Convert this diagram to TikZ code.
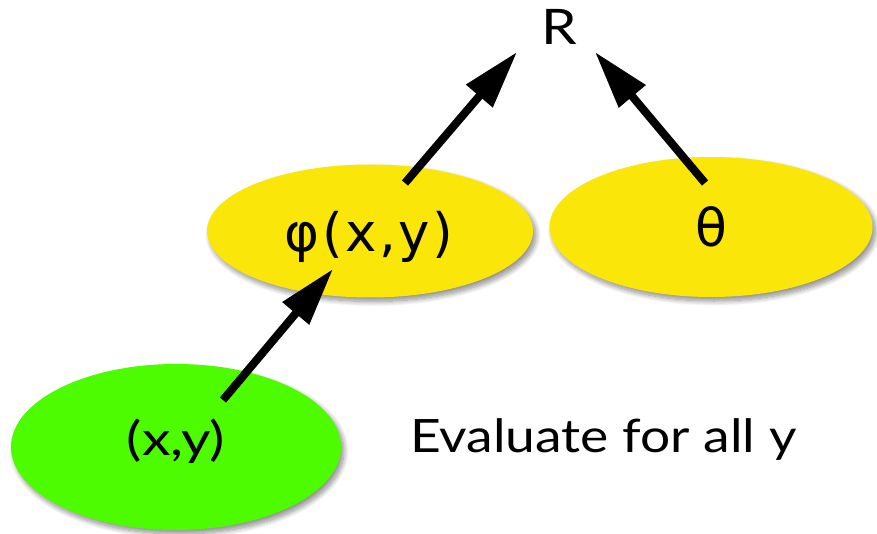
\documentclass[tikz,border=0pt]{standalone}
\usepackage{fontspec}
\setmainfont{Lato}
\newfontfamily\gill[FakeStretch=1.16]{Lato}
\newfontfamily\gillwide[FakeStretch=1.22]{Lato}
\newfontfamily\greekfont{DejaVu Sans}
\newfontfamily\greekspaced[LetterSpace=5]{DejaVu Sans}
\usetikzlibrary{arrows.meta,shadows,shadows.blur,shapes.geometric}
\definecolor{leafgreen}{RGB}{78,252,0}
\definecolor{sunyellow}{RGB}{251,230,10}
\tikzset{
  blob/.style={ellipse, inner sep=0pt, blur shadow={shadow xshift=3pt, shadow yshift=-4pt, shadow blur steps=12, shadow blur radius=5pt, shadow opacity=45}},
  link/.style={line width=8pt, -{Triangle[length=58pt,width=33pt]}},
  linkshadow/.style={line width=8pt, draw=black, opacity=0.2, -{Triangle[length=58pt,width=33pt]}},
}
\begin{document}
\begin{tikzpicture}[x=1pt,y=-1pt]
\useasboundingbox (0,0) rectangle (877,534);
\node[blob, fill=leafgreen, minimum width=330pt, minimum height=166pt] (xy) at (176,447) {};
\node[blob, fill=sunyellow, minimum width=326pt, minimum height=133pt] (phi) at (370,231) {};
\node[blob, fill=sunyellow, minimum width=323pt, minimum height=140pt] (theta) at (711,227) {};
\node[font=\gillwide\fontsize{47}{50}\selectfont, anchor=base, inner sep=0pt] (xylab) at (176,455) {(x,y)};
\node[font=\greekspaced\fontsize{53}{58}\selectfont, anchor=base, inner sep=0pt] (philab) at (369,252) {φ(x,y)};
\node[font=\greekfont\fontsize{52}{56}\selectfont, anchor=base, inner sep=0pt] (thetalab) at (711,247) {θ};
\node[font=\gill\fontsize{49}{52}\selectfont, anchor=base, inner sep=0pt] (R) at (559,45) {R};
\node[font=\gill\fontsize{46}{50}\selectfont, anchor=base west, inner sep=0pt] (eval) at (410,452) {Evaluate for all y};
\coordinate (a1) at (223,400); \coordinate (b1) at (333,269);
\coordinate (a2) at (405,183); \coordinate (b2) at (517,52);
\coordinate (a3) at (705,183); \coordinate (b3) at (595,52);
\begin{scope}[xshift=3pt,yshift=-3pt]
\draw[linkshadow] (a1) -- (b1);
\draw[linkshadow] (a2) -- (b2);
\draw[linkshadow] (a3) -- (b3);
\end{scope}
\draw[link] (a1) -- (b1);
\draw[link] (a2) -- (b2);
\draw[link] (a3) -- (b3);
\end{tikzpicture}
\end{document}
